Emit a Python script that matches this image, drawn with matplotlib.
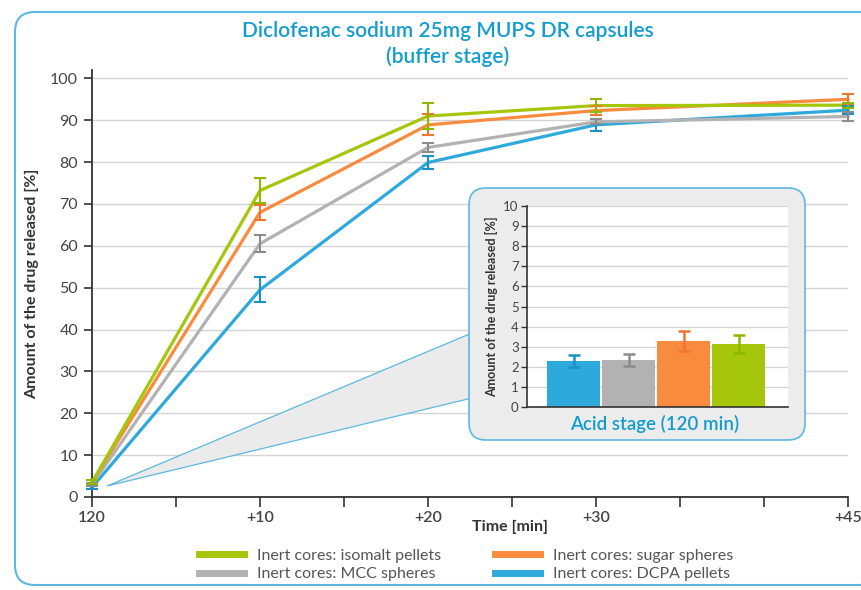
import matplotlib
matplotlib.use("Agg")
import matplotlib.pyplot as plt
from matplotlib.patches import FancyBboxPatch, Polygon
from matplotlib.lines import Line2D

plt.rcParams['font.family'] = ['Lato', 'DejaVu Sans']

# ---- data ----
time_x = [0, 10, 20, 30, 45]
time_labels = ["120", "+10", "+20", "+30", "+45"]

isomalt = [3.5, 73.2, 91.0, 93.5, 93.6]
isomalt_err = [0.5, 3.0, 3.2, 1.5, 0.6]
sugar = [3.5, 68.0, 88.9, 92.3, 95.0]
sugar_err = [0.5, 1.8, 2.5, 1.0, 1.2]
mcc = [3.0, 60.5, 83.5, 89.6, 90.9]
mcc_err = [0.3, 2.0, 1.0, 0.6, 1.0]
dcpa = [2.3, 49.5, 79.9, 88.9, 92.4]
dcpa_err = [0.4, 3.0, 1.5, 1.5, 1.0]

acid_names = ["DCPA pellets", "MCC spheres", "sugar spheres", "isomalt pellets"]
acid_vals = [2.3, 2.35, 3.3, 3.15]
acid_err = [0.3, 0.3, 0.5, 0.45]

C_GREEN = "#a6c60c"
C_ORANGE = "#f98b3e"
C_GRAY = "#b2b2b2"
C_BLUE = "#2ea9dc"
E_GREEN = "#8cb800"
E_ORANGE = "#f07632"
E_GRAY = "#8c8c8c"
E_BLUE = "#1a90c4"
TITLE_BLUE = "#139dcd"
FRAME_BLUE = "#5cb8df"
TXT = "#444444"

W, H = 862, 590
fig = plt.figure(figsize=(W / 100, H / 100), dpi=100)
fig.patch.set_facecolor("white")
inch = fig.dpi_scale_trans


def py(y):
    return (H - y) / 100.0


# outer frame
frame = FancyBboxPatch((15 / 100, py(585)), (880 - 15) / 100, (585 - 12) / 100,
                       boxstyle="round,pad=0,rounding_size=0.2",
                       transform=inch, facecolor="white", edgecolor=FRAME_BLUE,
                       linewidth=1.5, zorder=-5)
fig.patches.append(frame)

# ---- main axes ----
ax = fig.add_axes([92 / W, (H - 497) / H, (848 - 92) / W, (497 - 70) / H])
ax.set_facecolor("none")
ax.set_xlim(0, 45)
ax.set_ylim(0, 102)
ax.set_yticks(range(0, 101, 10))
ax.set_xticks(range(0, 46, 5))
ax.set_xticklabels([time_labels[time_x.index(t)] if t in time_x else "" for t in range(0, 46, 5)])
ax.grid(axis="y", color="#d4d4d4", linewidth=1.0)
ax.set_axisbelow(True)
for s in ["top", "right"]:
    ax.spines[s].set_visible(False)
for s in ["left", "bottom"]:
    ax.spines[s].set_color("#333333")
    ax.spines[s].set_linewidth(1.3)
ax.tick_params(axis="y", direction="out", length=6, width=1.2, color="#333333",
               labelsize=11.5, labelcolor=TXT, pad=4)
ax.tick_params(axis="x", direction="out", length=7, width=1.2, color="#333333",
               labelsize=11.5, labelcolor=TXT, pad=3)
for lbl in ax.get_xticklabels():
    lbl.set_fontweight("semibold")

series = [
    (dcpa, dcpa_err, C_BLUE, E_BLUE),
    (mcc, mcc_err, C_GRAY, E_GRAY),
    (sugar, sugar_err, C_ORANGE, E_ORANGE),
    (isomalt, isomalt_err, C_GREEN, E_GREEN),
]
for vals, errs, c, ec in series:
    ax.plot(time_x, vals, color=c, linewidth=2.3, zorder=3, clip_on=False)
    ax.errorbar(time_x, vals, yerr=errs, fmt="none", ecolor=ec, elinewidth=1.5,
                capsize=4, capthick=1.5, zorder=4, clip_on=False)

ax.set_ylabel("Amount of the drug released [%]", fontsize=11.5, fontweight="bold",
              color="#333333", labelpad=8)
fig.text(510 / W, (H - 527) / H, "Time [min]", fontsize=11.5, fontweight="bold",
         color="#333333", ha="center", va="center")

# title
fig.text(448 / W, (H - 31) / H, "Diclofenac sodium 25mg MUPS DR capsules",
         fontsize=15, fontweight="semibold", color=TITLE_BLUE, ha="center", va="center")
fig.text(448 / W, (H - 57) / H, "(buffer stage)",
         fontsize=15, fontweight="semibold", color=TITLE_BLUE, ha="center", va="center")

# callout wedge
wedge = Polygon([(107 / 100, py(486)), (472 / 100, py(333)), (472 / 100, py(398))],
                closed=True, transform=inch, facecolor="#ebebeb",
                edgecolor=FRAME_BLUE, linewidth=0.9, zorder=1.5)
fig.patches.append(wedge)

# inset box
box = FancyBboxPatch((469 / 100, py(440)), (805 - 469) / 100, (440 - 188) / 100,
                     boxstyle="round,pad=0,rounding_size=0.17",
                     transform=inch, facecolor="#ececec", edgecolor=FRAME_BLUE,
                     linewidth=1.2, zorder=2)
fig.patches.append(box)

# ---- inset axes ----
iax = fig.add_axes([527 / W, (H - 407) / H, (788 - 527) / W, (407 - 206) / H])
iax.set_zorder(3)
iax.set_facecolor("white")
iax.set_ylim(0, 10)
iax.set_xlim(-0.85, 3.9)
iax.set_yticks(range(0, 11))
iax.set_xticks([])
iax.grid(axis="y", color="#d4d4d4", linewidth=0.9)
iax.set_axisbelow(True)
for s in ["top", "right"]:
    iax.spines[s].set_visible(False)
for s in ["left", "bottom"]:
    iax.spines[s].set_color("#333333")
    iax.spines[s].set_linewidth(1.2)
iax.tick_params(axis="y", direction="out", length=4, width=1.0, color="#333333",
                labelsize=9.5, labelcolor=TXT, pad=2)
bar_colors = [C_BLUE, C_GRAY, C_ORANGE, C_GREEN]
err_colors = [E_BLUE, E_GRAY, E_ORANGE, E_GREEN]
xs = list(range(len(acid_vals)))
iax.bar(xs, acid_vals, width=0.965, color=bar_colors, zorder=2)
for x, v, e, ec in zip(xs, acid_vals, acid_err, err_colors):
    iax.errorbar([x], [v], yerr=[e], fmt="none", ecolor=ec, elinewidth=1.8,
                 capsize=4.5, capthick=1.8, zorder=3)
iax.set_ylabel("Amount of the drug released [%]", fontsize=9, fontweight="bold",
               color="#333333", labelpad=4)
fig.text(655 / W, (H - 424) / H, "Acid stage (120 min)", fontsize=13.5,
         fontweight="semibold", color=TITLE_BLUE, ha="center", va="center", zorder=4)

# legend
handles = [
    Line2D([], [], color=C_GREEN, linewidth=5),
    Line2D([], [], color=C_GRAY, linewidth=5),
    Line2D([], [], color=C_ORANGE, linewidth=5),
    Line2D([], [], color=C_BLUE, linewidth=5),
]
labels = ["Inert cores: isomalt pellets", "Inert cores: MCC spheres",
          "Inert cores: sugar spheres", "Inert cores: DCPA pellets"]
leg = fig.legend(handles, labels, ncol=2, loc="center",
                 bbox_to_anchor=(466 / W, (H - 565) / H), frameon=False,
                 fontsize=11.5, handlelength=2.8, handletextpad=0.8,
                 columnspacing=3.4, labelspacing=0.25, labelcolor="#555555")

fig.savefig("out.png", dpi=100)
